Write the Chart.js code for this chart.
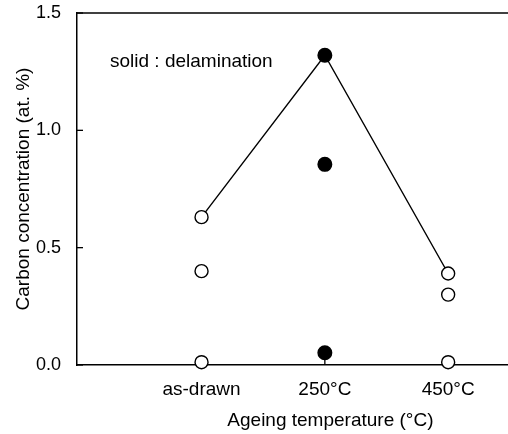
<!DOCTYPE html>
<html><head><meta charset="utf-8">
<script src="https://cdn.jsdelivr.net/npm/chart.js@4/dist/chart.umd.min.js"></script>
<style>html,body{margin:0;padding:0;background:#fff;overflow:hidden}#wrap{width:508px;height:434px;overflow:hidden;position:relative}canvas{position:absolute;left:0;top:0}</style>
</head><body><div id="wrap"><canvas id="c" width="592" height="434"></canvas></div>
<script>
const categories = ["as-drawn", "250\u00B0C", "450\u00B0C"];
const lineValues = [0.63, 1.32, 0.39];
const openAsDrawn = [0.63, 0.40, 0.012];
const filled250 = [1.32, 0.855, 0.052];
const open450 = [0.39, 0.30, 0.012];
const yTicks = [0, 0.5, 1.0, 1.5];
const annotationText = "solid : delamination";

const FONT = "'Liberation Sans', Arial, sans-serif";
const toPts = (xi, arr) => arr.map(v => ({x: xi, y: v}));

const framePlugin = {
  id: 'framePlugin',
  beforeDatasetsDraw(chart) {
    const ctx = chart.ctx, xs = chart.scales.x, ys = chart.scales.y, a = chart.chartArea;
    ctx.save();
    ctx.strokeStyle = '#000'; ctx.lineWidth = 1.5;
    ctx.beginPath(); ctx.moveTo(a.left - 0.75, a.top); ctx.lineTo(a.right, a.top); ctx.stroke();
    ctx.lineWidth = 1.3;
    yTicks.forEach(v => {
      const y = ys.getPixelForValue(v);
      ctx.beginPath(); ctx.moveTo(a.left, y); ctx.lineTo(a.left + 6, y); ctx.stroke();
    });
    categories.forEach((c, i) => {
      const x = xs.getPixelForValue(i);
      ctx.beginPath(); ctx.moveTo(x, a.bottom); ctx.lineTo(x, a.bottom - 6); ctx.stroke();
    });
    ctx.fillStyle = '#000';
    ctx.font = "19px " + FONT;
    ctx.textBaseline = 'middle';
    ctx.fillText(annotationText, a.left + 33, a.top + 49);
    ctx.restore();
  }
};

new Chart(document.getElementById('c'), {
  type: 'scatter',
  data: {
    datasets: [
      { type: 'line', data: lineValues.map((v, i) => ({x: i, y: v})), borderColor: '#000', borderWidth: 1.4, pointRadius: 0, fill: false, order: 2 },
      { data: toPts(0, openAsDrawn), pointRadius: 6.5, pointBackgroundColor: '#fff', pointBorderColor: '#000', pointBorderWidth: 1.4, order: 1 },
      { data: toPts(1, filled250), pointRadius: 6.8, pointBackgroundColor: '#000', pointBorderColor: '#000', pointBorderWidth: 1.4, order: 1 },
      { data: toPts(2, open450), pointRadius: 6.5, pointBackgroundColor: '#fff', pointBorderColor: '#000', pointBorderWidth: 1.4, order: 1 }
    ]
  },
  options: {
    responsive: false,
    animation: false,
    clip: false,
    layout: { padding: { left: 0, right: 0, top: 13, bottom: 0 } },
    plugins: { legend: { display: false }, tooltip: { enabled: false } },
    scales: {
      x: {
        type: 'linear', position: 'bottom', min: -1.01, max: 3.1,
        afterBuildTicks: s => { s.ticks = categories.map((c, i) => ({value: i})); },
        afterFit: s => { s.height = 69; s.paddingLeft = 0; s.paddingRight = 0; },
        ticks: { callback: v => categories[v], color: '#000', font: { family: FONT, size: 19 }, padding: 13, maxRotation: 0 },
        grid: { display: false, drawTicks: false },
        border: { display: true, color: '#000', width: 1.5 },
        title: { display: true, text: 'Ageing temperature (\u00B0C)', color: '#000', font: { family: FONT, size: 19 }, padding: { top: 0, bottom: 2 } }
      },
      y: {
        min: 0, max: 1.5,
        afterBuildTicks: s => { s.ticks = yTicks.map(v => ({value: v})); },
        afterFit: s => { s.width = 77; s.paddingTop = 0; s.paddingBottom = 0; },
        ticks: { callback: v => v.toFixed(1), color: '#000', font: { family: FONT, size: 18 }, padding: 16 },
        grid: { display: false, drawTicks: false },
        border: { display: true, color: '#000', width: 1.5 },
        title: { display: true, text: 'Carbon concentration (at. %)', color: '#000', font: { family: FONT, size: 19 }, padding: { top: 12, bottom: 0 } }
      }
    }
  },
  plugins: [framePlugin]
});
</script></body></html>
